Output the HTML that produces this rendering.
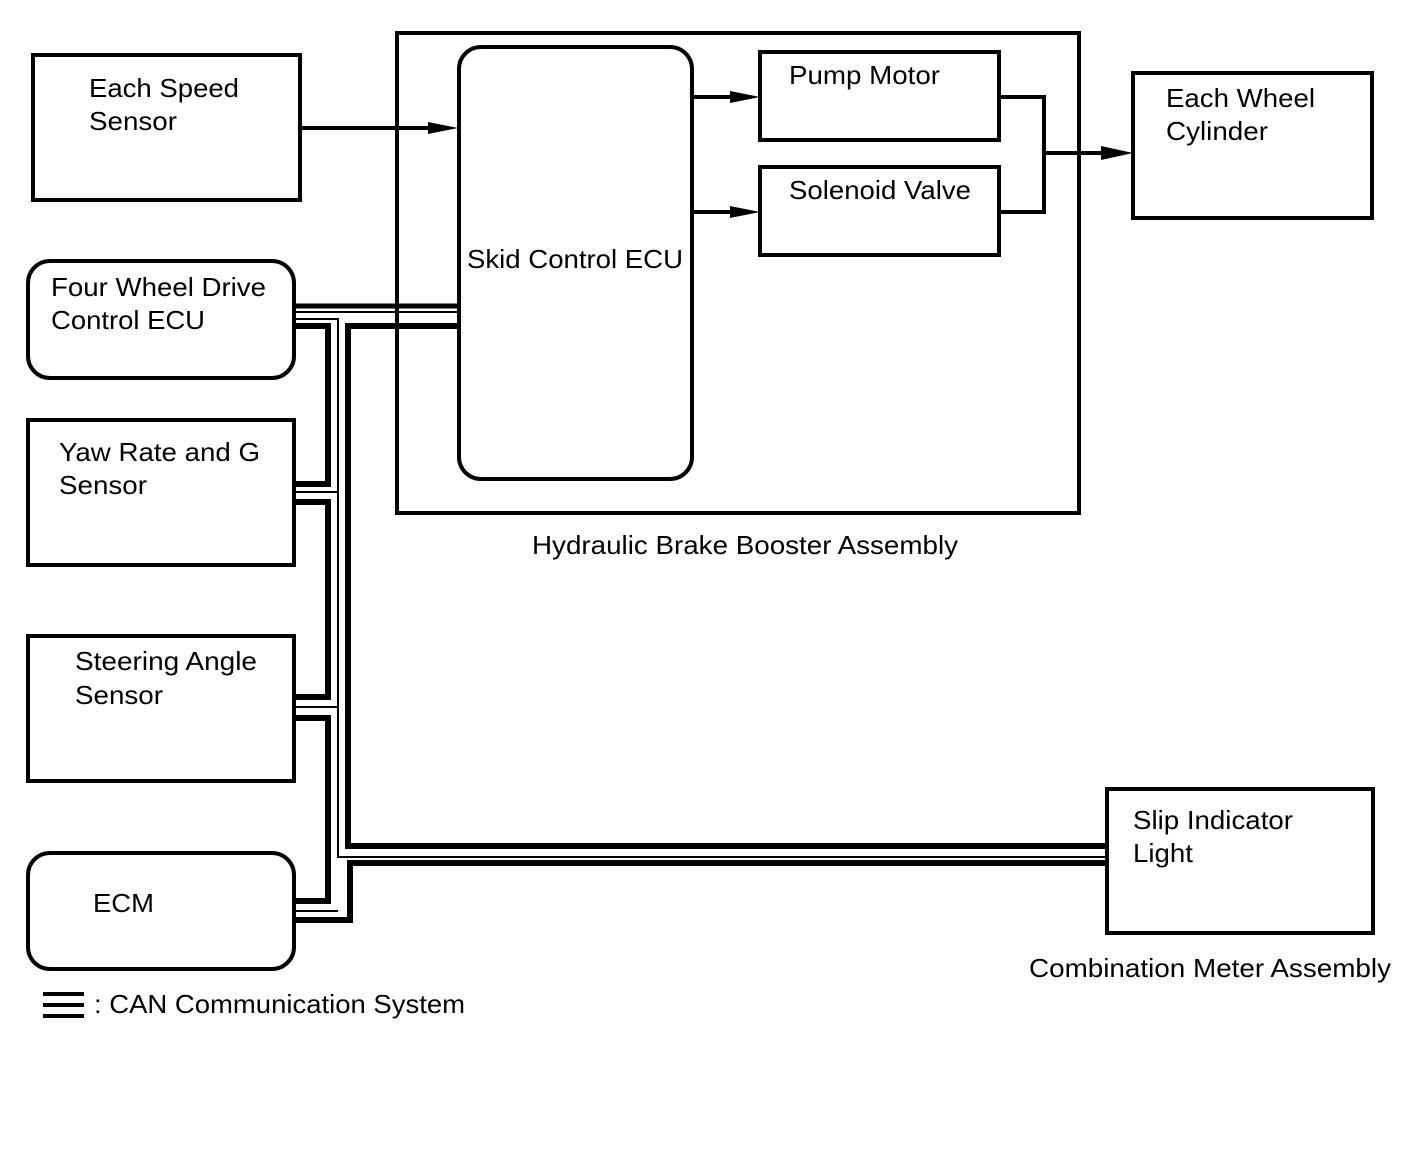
<!DOCTYPE html>
<html><head><meta charset="utf-8"><style>
html,body{margin:0;padding:0;background:#fff;}
svg{display:block;}
text{font-family:"Liberation Sans",Arial,sans-serif;font-size:26px;fill:#000;}
</style></head><body>
<svg width="1424" height="1160" viewBox="0 0 1424 1160" xmlns="http://www.w3.org/2000/svg">
<g fill="none" stroke="#000" stroke-width="4">
<rect x="33" y="55" width="267" height="145"/>
<rect x="397" y="33" width="682" height="480"/>
<rect x="459" y="47" width="233" height="432" rx="22"/>
<rect x="760" y="52" width="239" height="88"/>
<rect x="760" y="167" width="239" height="88"/>
<rect x="1133" y="73" width="239" height="145"/>
<rect x="28" y="261" width="266" height="117" rx="22"/>
<rect x="28" y="420" width="266" height="145"/>
<rect x="28" y="636" width="266" height="145"/>
<rect x="28" y="853" width="266" height="116" rx="22"/>
<rect x="1107" y="789" width="266" height="144"/>
<polyline points="300,128 430,128"/>
<polyline points="692,97 732,97"/>
<polyline points="692,212 732,212"/>
<polyline points="999,97 1044,97 1044,212 999,212"/>
<polyline points="1044,153 1105,153"/>
</g>
<g fill="#000">
<polygon points="458,128 428,122 428,134"/>
<polygon points="760,97 730,91 730,103"/>
<polygon points="760,212 730,206 730,218"/>
<polygon points="1133,153 1101,146 1101,160"/>
</g>
<g fill="none" stroke="#000" stroke-linejoin="miter">
<polyline stroke-width="5" points="294,306 458,306"/>
<polyline stroke-width="2" points="294,312 458,312"/>
<polyline stroke-width="2" points="294,319 338,319 338,857 1107,857"/>
<polyline stroke-width="6" points="458,326 348,326 348,846 1107,846"/>
<polyline stroke-width="6" points="294,920 350,920 350,863 1107,863"/>
<polyline stroke-width="6" points="294,326 328,326 328,484 294,484"/>
<polyline stroke-width="6" points="294,502 328,502 328,697 294,697"/>
<polyline stroke-width="6" points="294,718 328,718 328,901 294,901"/>
<polyline stroke-width="2" points="294,492 338,492"/>
<polyline stroke-width="2" points="294,707 338,707"/>
<polyline stroke-width="2" points="294,911 338,911"/>
<line stroke-width="4" x1="43" y1="994" x2="84" y2="994"/>
<line stroke-width="4" x1="43" y1="1005" x2="84" y2="1005"/>
<line stroke-width="4" x1="43" y1="1016" x2="84" y2="1016"/>
</g>
<g lengthAdjust="spacingAndGlyphs">
<text x="89" y="97" textLength="150" lengthAdjust="spacingAndGlyphs">Each Speed</text>
<text x="89" y="130" textLength="88" lengthAdjust="spacingAndGlyphs">Sensor</text>
<text x="467" y="268" textLength="216" lengthAdjust="spacingAndGlyphs">Skid Control ECU</text>
<text x="789" y="84" textLength="151" lengthAdjust="spacingAndGlyphs">Pump Motor</text>
<text x="789" y="199" textLength="182" lengthAdjust="spacingAndGlyphs">Solenoid Valve</text>
<text x="1166" y="107" textLength="149" lengthAdjust="spacingAndGlyphs">Each Wheel</text>
<text x="1166" y="140" textLength="102" lengthAdjust="spacingAndGlyphs">Cylinder</text>
<text x="51" y="296" textLength="215" lengthAdjust="spacingAndGlyphs">Four Wheel Drive</text>
<text x="51" y="329" textLength="154" lengthAdjust="spacingAndGlyphs">Control ECU</text>
<text x="59" y="461" textLength="201" lengthAdjust="spacingAndGlyphs">Yaw Rate and G</text>
<text x="59" y="494" textLength="88" lengthAdjust="spacingAndGlyphs">Sensor</text>
<text x="75" y="670" textLength="182" lengthAdjust="spacingAndGlyphs">Steering Angle</text>
<text x="75" y="704" textLength="88" lengthAdjust="spacingAndGlyphs">Sensor</text>
<text x="93" y="912" textLength="61" lengthAdjust="spacingAndGlyphs">ECM</text>
<text x="1133" y="829" textLength="160" lengthAdjust="spacingAndGlyphs">Slip Indicator</text>
<text x="1133" y="862" textLength="60" lengthAdjust="spacingAndGlyphs">Light</text>
<text x="532" y="554" textLength="426" lengthAdjust="spacingAndGlyphs">Hydraulic Brake Booster Assembly</text>
<text x="1029" y="977" textLength="362" lengthAdjust="spacingAndGlyphs">Combination Meter Assembly</text>
<text x="94" y="1013" textLength="371" lengthAdjust="spacingAndGlyphs">: CAN Communication System</text>
</g>
</svg>
</body></html>
